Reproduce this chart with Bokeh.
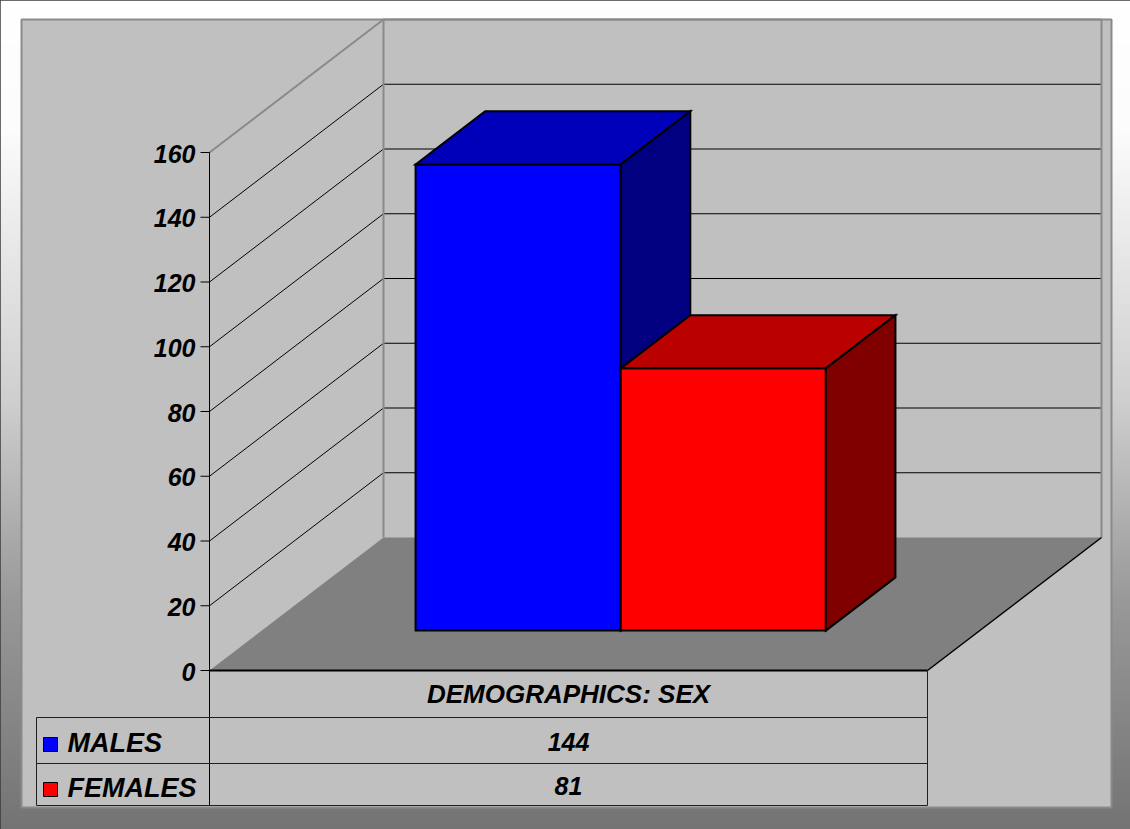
import numpy as np
from bokeh.plotting import figure
from bokeh.models import Range1d
from bokeh.core.properties import value
from bokeh.embed import file_html
from bokeh.resources import INLINE

# ---------------- data ----------------
category = "DEMOGRAPHICS: SEX"
series_names = ["MALES", "FEMALES"]
series_values = [144, 81]
tick_values = [0, 20, 40, 60, 80, 100, 120, 140, 160]
tick_labels = ["0", "20", "40", "60", "80", "100", "120", "140", "160"]
front_colors = ["#0000FF", "#FF0000"]
top_colors = ["#0000BB", "#BB0000"]
side_colors = ["#000080", "#800000"]

# ---------------- layout (screen geometry of the 3-D box) ----------------
X0_PX, Y0_PX = 209.0, 670.0       # front-left corner of the floor (value 0)
X_UNIT_PX = 718.0                 # width of the single category on the front plane
V_UNIT_PX = 518.0 / 160.0         # pixels per value unit
DX = 174.0 / X_UNIT_PX            # depth offset in x-units
DY = 133.0 / V_UNIT_PX            # depth offset in value units
VMAX = 160
GAP = 1.5                         # gap width (150 %)
BAR_Z0, BAR_Z1 = 0.3, 0.7         # depth slice occupied by the bars


def ux(px):
    return (px - X0_PX) / X_UNIT_PX


def vy(py):
    return (Y0_PX - py) / V_UNIT_PX


def proj(x, y, z):
    return x + z * DX, y + z * DY


W, H = 1130, 829
p = figure(width=W, height=H, x_range=Range1d(ux(0), ux(W)),
           y_range=Range1d(vy(H), vy(0)), output_backend="svg",
           toolbar_location=None, min_border=0)
p.axis.visible = False
p.grid.visible = False
p.outline_line_color = "#3a3a3a"
p.outline_line_width = 2
p.border_fill_color = "white"
p.background_fill_color = "white"

# ---------------- outer gradient ----------------
rows = np.arange(H - 1, -1, -1)  # bottom row first
g = np.interp(rows, [0, 130, 200, 400, 600, 829], [255, 252, 240, 207, 153, 116]).astype(np.uint32)
img = (255 << 24) | (g << 16) | (g << 8) | g
img = img.reshape(H, 1).astype(np.uint32)
p.image_rgba(image=[img], x=ux(0), y=vy(H), dw=ux(W) - ux(0), dh=vy(0) - vy(H))

# ---------------- plot area ----------------
p.quad(left=ux(21), right=ux(1111), bottom=vy(807), top=vy(19),
       fill_color="#C0C0C0", line_color="#8A8A8A", line_width=2)

# floor
fl = [proj(0, 0, 0), proj(1, 0, 0), proj(1, 0, 1), proj(0, 0, 1)]
p.patch([a for a, b in fl], [b for a, b in fl], fill_color="#808080", line_color=None)

# back-wall grid lines and side-wall lines
gx, gy, sx, sy = [], [], [], []
for t in tick_values[1:-1]:
    a, b = proj(0, t, 1)
    c, d = proj(1, t, 1)
    gx.append([a, c]); gy.append([b, d])
    e, f = proj(0, t, 0)
    sx.append([e, a]); sy.append([f, b])
p.multi_line(gx, gy, line_color="black", line_width=1)
p.multi_line(sx, sy, line_color="black", line_width=1)

# wall edges (gray)
tl0 = proj(0, VMAX, 0)
tl1 = proj(0, VMAX, 1)
tr1 = proj(1, VMAX, 1)
bl1 = proj(0, 0, 1)
br1 = proj(1, 0, 1)
p.multi_line([[tl0[0], tl1[0], tr1[0]], [bl1[0], tl1[0]], [br1[0], tr1[0]]],
             [[tl0[1], tl1[1], tr1[1]], [bl1[1], tl1[1]], [br1[1], tr1[1]]],
             line_color="#8A8A8A", line_width=2)

# floor right edge
fr0 = proj(1, 0, 0)
p.line([fr0[0], br1[0]], [fr0[1], br1[1]], line_color="black", line_width=1.5)

# ---------------- bars ----------------
bw = 1.0 / (len(series_values) + GAP)
left0 = GAP * bw / 2
for i, (val, fc, tc, sc) in enumerate(zip(series_values, front_colors, top_colors, side_colors)):
    x0 = left0 + i * bw
    x1 = x0 + bw
    front = [proj(x0, 0, BAR_Z0), proj(x1, 0, BAR_Z0), proj(x1, val, BAR_Z0), proj(x0, val, BAR_Z0)]
    top = [proj(x0, val, BAR_Z0), proj(x1, val, BAR_Z0), proj(x1, val, BAR_Z1), proj(x0, val, BAR_Z1)]
    side = [proj(x1, 0, BAR_Z0), proj(x1, 0, BAR_Z1), proj(x1, val, BAR_Z1), proj(x1, val, BAR_Z0)]
    for poly, col in ((front, fc), (top, tc), (side, sc)):
        p.patch([a for a, b in poly], [b for a, b in poly], fill_color=col,
                line_color="black", line_width=2, line_join="miter")

# ---------------- value axis ----------------
p.line([0, 0], [vy(805), VMAX], line_color="black", line_width=1)
p.segment(x0=[ux(200)] * len(tick_values), x1=[0] * len(tick_values),
          y0=tick_values, y1=tick_values, line_color="black", line_width=1)
p.text(x=[ux(195)] * len(tick_values), y=[t - 1.0 / V_UNIT_PX for t in tick_values],
       text=tick_labels, text_font=value("Liberation Sans"), text_font_style="bold italic",
       text_font_size="25px", text_align="right", text_baseline="middle", text_color="black")

# ---------------- data table ----------------
p.line([0, 1], [0, 0], line_color="black", line_width=2)
p.multi_line([[ux(36), 1], [ux(36), 1], [ux(36), 1]],
             [[vy(717), vy(717)], [vy(763), vy(763)], [vy(805), vy(805)]],
             line_color="#202020", line_width=1)
p.multi_line([[ux(36), ux(36)], [1, 1]],
             [[vy(717), vy(805)], [0, vy(805)]],
             line_color="#202020", line_width=1)

p.text(x=[0.5], y=[vy(693.5)], text=[category], text_font=value("Liberation Sans"),
       text_font_style="bold italic", text_font_size="26px", text_align="center",
       text_baseline="middle", text_color="black")

val_mid = [741.5, 785.5]
p.text(x=[0.5] * len(series_values), y=[vy(b) for b in val_mid],
       text=[str(v) for v in series_values], text_font=value("Liberation Sans"),
       text_font_style="bold italic", text_font_size="25px", text_align="center",
       text_baseline="middle", text_color="black")

lab_mid = [742, 787]
p.text(x=[ux(67)] * len(series_names), y=[vy(b) for b in lab_mid], text=series_names,
       text_font=value("Liberation Sans"), text_font_style="bold italic",
       text_font_size="27px", text_align="left", text_baseline="middle", text_color="black")

p.scatter(x=[ux(50)] * len(series_names), y=[vy(744), vy(789)], marker="square", size=14,
          fill_color=front_colors, line_color="black", line_width=1)

open("out.html", "w").write(file_html(p, INLINE))
